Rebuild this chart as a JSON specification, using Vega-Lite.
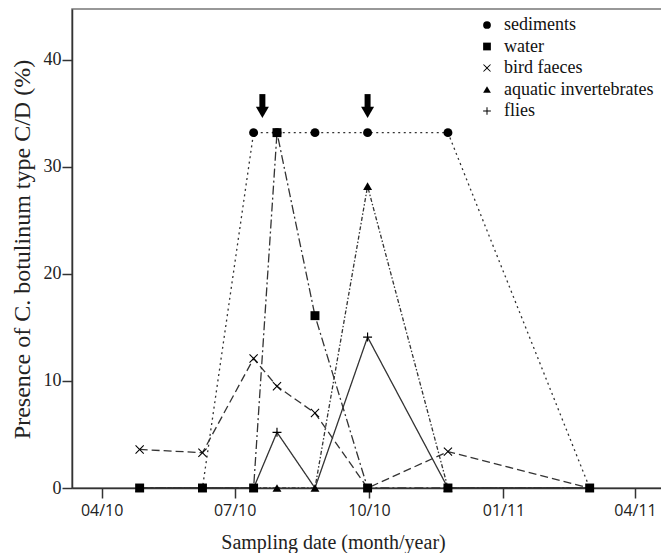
{
  "$schema": "https://vega.github.io/schema/vega-lite/v6.json",
  "width": 590,
  "height": 479,
  "autosize": "none",
  "padding": {"left": 72, "top": 9, "right": 0, "bottom": 65},
  "background": "white",
  "config": {
    "view": {"stroke": "#777", "strokeWidth": 1.5},
    "font": "Liberation Serif",
    "legend": {"labelFont": "Liberation Serif", "labelFontSize": 18},
    "axis": {"grid": false, "domainColor": "#333", "domainWidth": 1.5, "tickColor": "#333", "tickWidth": 1.5, "tickSize": 10, "labelColor": "#222", "titleColor": "#222", "titleFontWeight": "normal"}
  },
  "layer": [
    {
      "data": {"values": [
        {"date": "2010-04-27", "series": "sediments", "value": 0},
        {"date": "2010-06-09", "series": "sediments", "value": 0},
        {"date": "2010-07-14", "series": "sediments", "value": 33.2},
        {"date": "2010-07-30", "series": "sediments", "value": 33.2},
        {"date": "2010-08-25", "series": "sediments", "value": 33.2},
        {"date": "2010-09-30", "series": "sediments", "value": 33.2},
        {"date": "2010-11-24", "series": "sediments", "value": 33.2},
        {"date": "2011-03-01", "series": "sediments", "value": 0},
        {"date": "2010-04-27", "series": "bird faeces", "value": 3.6},
        {"date": "2010-06-09", "series": "bird faeces", "value": 3.3},
        {"date": "2010-07-14", "series": "bird faeces", "value": 12.1},
        {"date": "2010-07-30", "series": "bird faeces", "value": 9.5},
        {"date": "2010-08-25", "series": "bird faeces", "value": 7.0},
        {"date": "2010-09-30", "series": "bird faeces", "value": 0},
        {"date": "2010-11-24", "series": "bird faeces", "value": 3.4},
        {"date": "2011-03-01", "series": "bird faeces", "value": 0},
        {"date": "2010-04-27", "series": "aquatic invertebrates", "value": 0},
        {"date": "2010-06-09", "series": "aquatic invertebrates", "value": 0},
        {"date": "2010-07-14", "series": "aquatic invertebrates", "value": 0},
        {"date": "2010-07-30", "series": "aquatic invertebrates", "value": 0},
        {"date": "2010-08-25", "series": "aquatic invertebrates", "value": 0},
        {"date": "2010-09-30", "series": "aquatic invertebrates", "value": 28.2},
        {"date": "2010-11-24", "series": "aquatic invertebrates", "value": 0},
        {"date": "2011-03-01", "series": "aquatic invertebrates", "value": 0},
        {"date": "2010-04-27", "series": "flies", "value": 0},
        {"date": "2010-06-09", "series": "flies", "value": 0},
        {"date": "2010-07-14", "series": "flies", "value": 0},
        {"date": "2010-07-30", "series": "flies", "value": 5.2},
        {"date": "2010-08-25", "series": "flies", "value": 0},
        {"date": "2010-09-30", "series": "flies", "value": 14.1},
        {"date": "2010-11-24", "series": "flies", "value": 0},
        {"date": "2011-03-01", "series": "flies", "value": 0},
        {"date": "2010-04-27", "series": "water", "value": 0},
        {"date": "2010-06-09", "series": "water", "value": 0},
        {"date": "2010-07-14", "series": "water", "value": 0},
        {"date": "2010-07-30", "series": "water", "value": 33.2},
        {"date": "2010-08-25", "series": "water", "value": 16.1},
        {"date": "2010-09-30", "series": "water", "value": 0},
        {"date": "2010-11-24", "series": "water", "value": 0},
        {"date": "2011-03-01", "series": "water", "value": 0}
      ]},
      "resolve": {"legend": {"shape": "independent", "strokeDash": "independent"}},
      "layer": [
        {
          "mark": {"type": "line", "color": "#333", "strokeWidth": 1.3},
          "encoding": {
            "x": {"field": "date", "type": "temporal",
              "scale": {"type": "utc", "domain": [{"year": 2010, "month": 3, "date": 11, "hours": 17, "utc": true}, {"year": 2011, "month": 4, "date": 19, "hours": 12, "utc": true}]},
              "axis": {
                "values": [{"year": 2010, "month": 4, "date": 1, "utc": true}, {"year": 2010, "month": 7, "date": 1, "utc": true}, {"year": 2010, "month": 10, "date": 1, "utc": true}, {"year": 2011, "month": 1, "date": 1, "utc": true}, {"year": 2011, "month": 4, "date": 1, "utc": true}],
                "format": "%m/%y",
                "labelFont": "Open Sans", "labelFontSize": 16, "labelBaseline": "alphabetic", "labelPadding": 17,
                "title": "Sampling date (month/year)", "titleFont": "Liberation Serif", "titleFontSize": 20,
                "titleX": 261, "titleY": 60, "titleAlign": "center", "titleBaseline": "alphabetic"
              }},
            "y": {"field": "value", "type": "quantitative",
              "scale": {"domain": [0, 44.75], "nice": false, "zero": true},
              "axis": {
                "values": [0, 10, 20, 30, 40],
                "labelFont": "Liberation Serif", "labelFontSize": 18, "labelPadding": 1,
                "title": "Presence of C. botulinum type C/D (%)", "titleFont": "Liberation Serif", "titleFontSize": 24,
                "titleX": -50, "titleY": 240, "titleAlign": "center", "titleBaseline": "middle", "titleAngle": -90
              }},
            "strokeDash": {"field": "series", "type": "nominal",
              "scale": {"domain": ["sediments", "water", "bird faeces", "aquatic invertebrates", "flies"],
                        "range": [[2, 3.5], [9, 3, 2, 3], [8, 4], [4, 2, 1.5, 2], [1, 0]]},
              "legend": null}
          }
        },
        {
          "transform": [{"filter": "datum.value > 0 || datum.series === 'water' || datum.series === 'aquatic invertebrates'"}],
          "mark": {"type": "point", "filled": true, "color": "black", "size": 80, "opacity": 1},
          "encoding": {
            "x": {"field": "date", "type": "temporal",
              "scale": {"type": "utc", "domain": [{"year": 2010, "month": 3, "date": 11, "hours": 17, "utc": true}, {"year": 2011, "month": 4, "date": 19, "hours": 12, "utc": true}]}},
            "y": {"field": "value", "type": "quantitative", "scale": {"domain": [0, 44.75], "nice": false, "zero": true}},
            "shape": {"field": "series", "type": "nominal",
              "scale": {"domain": ["sediments", "water", "bird faeces", "aquatic invertebrates", "flies"],
                        "range": ["circle", "square",
                                  "M-1,-0.83L-0.83,-1L0,-0.17L0.83,-1L1,-0.83L0.17,0L1,0.83L0.83,1L0,0.17L-0.83,1L-1,0.83L-0.17,0Z",
                                  "triangle-up",
                                  "M-1,-0.13L-0.13,-0.13L-0.13,-1L0.13,-1L0.13,-0.13L1,-0.13L1,0.13L0.13,0.13L0.13,1L-0.13,1L-0.13,0.13L-1,0.13Z"]},
              "legend": {
                "title": null, "orient": "none", "legendX": 406, "legendY": 7, "padding": 0,
                "direction": "vertical",
                "labelFont": "Liberation Serif", "labelFontSize": 18, "labelColor": "#111", "labelOffset": 8,
                "rowPadding": 3.5, "symbolSize": 60,
                "symbolFillColor": "black", "symbolStrokeColor": "black", "symbolStrokeWidth": 0, "symbolOpacity": 1,
                "encode": {"labels": {"update": {"font": {"value": "Liberation Serif"}, "fontSize": {"value": 18}}}}
              }}
          }
        }
      ]
    },
    {
      "data": {"values": [
        {"date": "2010-07-20", "top": 36.8, "bottom": 35.4, "head": 35.1},
        {"date": "2010-09-30", "top": 36.8, "bottom": 35.4, "head": 35.1}
      ]},
      "layer": [
        {
          "mark": {"type": "rule", "color": "black", "strokeWidth": 6},
          "encoding": {
            "x": {"field": "date", "type": "temporal", "scale": {"type": "utc"}},
            "y": {"field": "top", "type": "quantitative"},
            "y2": {"field": "bottom"}
          }
        },
        {
          "mark": {"type": "point", "shape": "triangle-down", "filled": true, "color": "black", "size": 169, "opacity": 1},
          "encoding": {
            "x": {"field": "date", "type": "temporal", "scale": {"type": "utc"}},
            "y": {"field": "head", "type": "quantitative"}
          }
        }
      ]
    }
  ]
}
